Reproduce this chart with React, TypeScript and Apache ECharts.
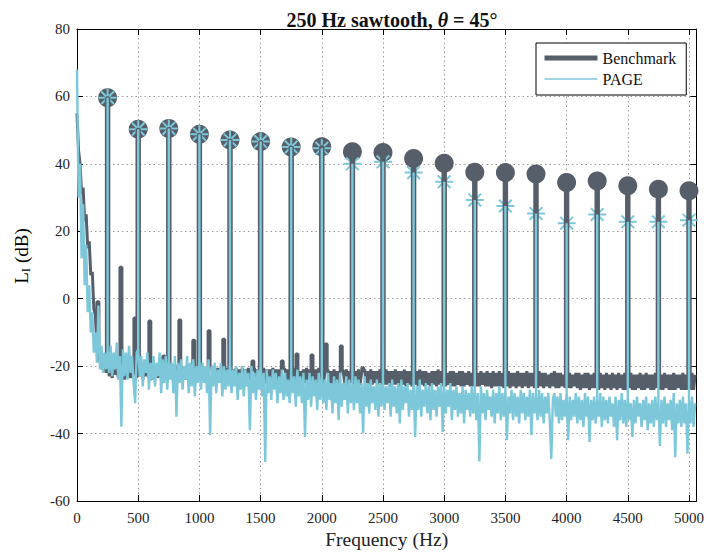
import React, { useEffect, useRef } from 'react';
import * as echarts from 'echarts';

const FONT = 'Liberation Serif';
const DARK = '#555e69';
const CYAN = '#7cc7d9';

// Harmonics of the 250 Hz sawtooth
const harmonicHz = [250, 500, 750, 1000, 1250, 1500, 1750, 2000, 2250, 2500, 2750, 3000, 3250, 3500, 3750, 4000, 4250, 4500, 4750, 5000];
const benchmarkPeakDb = [59.6, 50.3, 50.5, 48.8, 47.1, 46.6, 45.0, 45.1, 43.6, 43.4, 41.6, 40.2, 37.5, 37.4, 37.0, 34.5, 34.9, 33.5, 32.5, 32.0];
const pagePeakDb = [59.6, 50.3, 50.5, 48.8, 47.1, 46.6, 45.0, 44.6, 40.0, 40.6, 37.4, 34.7, 29.3, 27.5, 25.3, 22.4, 25.0, 22.8, 22.8, 23.3];

// Smaller benchmark peaks between harmonics
const benchmarkSubPeakHz = [171, 359, 473, 595, 710, 840, 954, 1079, 1199, 1437, 1677, 1797, 1920, 2036, 2159, 2335];
const benchmarkSubPeakDb = [-0.9, 9.3, -5.7, -6.6, -17, -6.3, -12.3, -9.5, -12, -18.5, -18.5, -16.4, -16.7, -13.4, -14, -20.5];

// Benchmark spectrum floor, sampled every 12.5 Hz from 0 Hz
const benchmarkStepHz = 12.5;
const benchmarkFloorDb = [
  55, 44, 40, 31, 33, 23, 25, 15, 17, 7, 8, -3, -5, -14, -12, -19, -17, -21, -18.5, -22,
  -19.5, -23, -20, -23.5, -19.5, -22.5, -20.5, -23.5, -19.5, -23, -20, -24, -19.5, -23, -20.5, -23.5, -20, -22.5, -19.5, -23.5,
  -20, -23, -19.5, -24, -20.5, -23, -20, -23.5, -19.5, -24, -20.5, -23, -20, -23.5, -19.5, -23, -20.5, -24, -20, -23.5,
  -20, -23.5, -20.5, -23, -19.5, -24, -20, -23.5, -20.5, -23, -20, -24, -19.5, -23.5, -20.5, -23, -20, -24, -20.5, -23.5,
  -20.5, -24, -20, -23.5, -21, -24, -20.5, -24.5, -20, -23.5, -21, -24, -20.5, -24.5, -20.5, -23.5, -21, -24, -20.5, -24.5,
  -20.5, -24, -21, -24.5, -20.5, -24, -21, -24.5, -20.5, -24, -21, -24.5, -20.5, -24, -21, -24.5, -20.5, -24, -21, -25,
  -21, -24.5, -20.5, -25, -21, -24.5, -21, -25, -20.5, -24.5, -21, -25, -21, -24.5, -20.5, -25, -21, -24.5, -21, -25,
  -21, -25, -20.5, -24.5, -21, -25, -21.5, -24.5, -21, -25, -20.5, -25, -21, -24.5, -21.5, -25, -21, -25, -20.5, -24.5,
  -21, -25, -21.5, -25.5, -21, -25, -21.5, -25.5, -21, -25, -21.5, -25.5, -21, -25.5, -21.5, -25, -21, -25.5, -21.5, -25,
  -21, -25.5, -21.5, -25, -21, -25.5, -21.5, -25.5, -21, -25, -21.5, -25.5, -21, -25.5, -21.5, -25, -21.5, -25.5, -21, -25.5,
  -21.5, -25.5, -21, -25.5, -21.5, -26, -21.5, -25.5, -21, -25.5, -21.5, -26, -21.5, -25.5, -21, -26, -21.5, -25.5, -21.5, -26,
  -21.5, -25.5, -21.5, -26, -21, -25.5, -21.5, -26, -21.5, -25.5, -22, -26, -21.5, -25.5, -21.5, -26, -21, -25.5, -21.5, -26,
  -21.5, -26, -22, -25.5, -21.5, -26, -21.5, -26, -22, -25.5, -21.5, -26, -21.5, -26, -22, -25.5, -21.5, -26, -22, -26,
  -21.5, -26, -22, -26, -21.5, -25.5, -22, -26, -21.5, -26, -22, -26.5, -21.5, -26, -22, -26, -21.5, -26, -22, -26.5,
  -22, -26, -21.5, -26.5, -22, -26, -22, -26.5, -21.5, -26, -22, -26.5, -22, -26, -21.5, -26.5, -22, -26, -22, -26.5,
  -22, -26.5, -21.5, -26, -22, -26.5, -22, -26, -22.5, -26.5, -22, -26, -21.5, -26.5, -22, -26.5, -22, -26, -22.5, -26.5,
  -22, -26.5, -22, -26.5, -22.5, -26, -22, -26.5, -22, -27, -22.5, -26.5, -22, -26.5, -22, -27, -22.5, -26.5, -22, -26.5,
  -22.5, -27, -22, -26.5, -22.5, -27, -22, -26.5, -22.5, -27, -22, -26.5, -22.5, -27, -22, -26.5, -22.5, -27, -22, -27,
  -22.5, -26.5, -22, -27, -22.5, -27, -22.5, -26.5, -22, -27, -22.5, -27, -22, -26.5, -22.5, -27, -22.5, -27, -22, -26.5,
  -22.5, -27, -22.5, -27, -22, -26.5, -22.5, -27, -22.5, -27, -22, -27, -22.5, -26.5, -22.5, -27, -22, -27, -22.5, -27,
  -22.5, -27, -22, -27, -22.5,
];

// PAGE spectrum floor, sampled every 12.5 Hz from 0 Hz
const pageStepHz = 12.5;
const pageFloorDb = [
  68, 30, 40, 12, 28, 4, 16, -4, 4, -10, -4, -16, -10, -19, -2, -21, -14, -22, -16, -21,
  -15, -22, -14, -23, -16, -21, -13, -24, -17, -38, -15, -23, -16, -24, -14, -22, -17, -25, -31, -16,
  -15, -23, -17, -26, -18, -22, -16, -27, -19, -24, -17, -26, -19, -23, -16, -28, -18, -25, -17, -27,
  -18, -24, -19, -28, -17, -35, -19, -25, -18, -27, -20, -24, -17, -28, -19, -26, -18, -29, -20, -25,
  -18, -27, -19, -25, -20, -28, -18, -40.5, -20, -26, -19, -28, -21, -25, -19, -29, -20, -27, -21, -26,
  -19, -28, -21, -26, -20, -30, -22, -27, -20, -29, -21, -26, -22, -39, -20, -28, -22, -30, -21, -27,
  -20, -29, -22, -48.4, -21, -28, -23, -30, -21, -27, -22, -31, -23, -28, -21, -30, -22, -29, -24, -31,
  -22, -28, -23, -32, -21, -29, -23, -31, -22, -41, -24, -30, -22, -32, -23, -29, -24, -33, -22, -30,
  -23, -31, -24, -33, -22, -30, -25, -34, -23, -31, -24, -36, -22, -32, -25, -30, -23, -34, -24, -31,
  -25, -33, -23, -31, -24, -34, -25, -40, -23, -32, -25, -34, -24, -31, -26, -33, -24, -35, -25, -32,
  -24, -33, -26, -31, -25, -35, -24, -32, -26, -34, -25, -37, -24, -33, -26, -31, -25, -35, -27, -33,
  -25, -41, -26, -33, -24, -35, -27, -32, -25, -34, -26, -36, -25, -33, -27, -35, -26, -32, -25, -39.5,
  -26, -34, -27, -32, -25, -36, -27, -33, -26, -35, -28, -34, -26, -37, -27, -33, -28, -35, -26, -34,
  -27, -36, -28, -48.3, -26, -34, -28, -36, -27, -33, -29, -35, -27, -37, -28, -34, -26, -36, -28, -35,
  -27, -42, -29, -34, -27, -36, -28, -35, -29, -37, -27, -34, -28, -36, -29, -35, -27, -40.5, -28, -34,
  -29, -36, -27, -35, -28, -37, -29, -34, -28, -36, -47.5, -30, -28, -35, -29, -37, -28, -36, -30, -35,
  -28, -42, -29, -36, -30, -35, -28, -37, -29, -36, -30, -38, -28, -35, -29, -42.5, -30, -36, -29, -37,
  -30, -35, -28, -38, -29, -36, -30, -37, -29, -35, -31, -38, -29, -42, -30, -36, -28, -37, -30, -38,
  -29, -36, -31, -41, -30, -37, -29, -35, -31, -38, -30, -36, -29, -39, -31, -37, -30, -38, -29, -36,
  -31, -43.7, -30, -37, -29, -38, -31, -36, -30, -39, -28, -47, -31, -37, -30, -38, -29, -37, -31, -46,
  -30, -37, -29, -38, -31,
];

const X_MIN = 0;
const X_MAX = 5060;
const X_INTERVAL = 500;
const Y_MIN = -60;
const Y_MAX = 80;
const Y_INTERVAL = 20;

function buildBenchmarkLine(): number[][] {
  const pts: number[][] = [];
  benchmarkFloorDb.forEach((v, i) => {
    const f = i * benchmarkStepHz;
    const nearSub = benchmarkSubPeakHz.some((s) => Math.abs(s - f) < 13);
    const h = harmonicHz.indexOf(f);
    if (h >= 0) {
      const p = benchmarkPeakDb[h];
      pts.push([f - 10, v], [f - 10, p], [f + 10, p], [f + 10, v]);
    } else if (!nearSub) {
      pts.push([f, v]);
    }
  });
  benchmarkSubPeakHz.forEach((f, k) => {
    const base = benchmarkFloorDb[Math.floor(f / benchmarkStepHz)];
    const p = benchmarkSubPeakDb[k];
    pts.push([f - 8, base], [f - 8, p], [f + 8, p], [f + 8, base]);
  });
  pts.sort((a, b) => a[0] - b[0]);
  return pts;
}

function buildPageLine(): number[][] {
  const pts: number[][] = [];
  pageFloorDb.forEach((v, i) => {
    const f = i * pageStepHz;
    pts.push([f, v]);
    const h = harmonicHz.indexOf(f);
    if (h >= 0) pts.push([f, pagePeakDb[h]], [f, v]);
  });
  return pts;
}

export default function App() {
  const ref = useRef<HTMLDivElement>(null);
  useEffect(() => {
    document.body.style.margin = '0';
    if (!ref.current) return;
    const chart = echarts.init(ref.current, undefined, { renderer: 'svg' });
    const axisText = { fontFamily: FONT, fontSize: 15, color: '#222' };
    const splitLine = { show: true, lineStyle: { type: [1.5, 3] as any, color: '#9c9c9c', width: 1 } };
    const axisLine = { show: true, onZero: false, lineStyle: { color: '#000', width: 1 } };
    const axisTick = { show: true, inside: true, length: 6, lineStyle: { color: '#000', width: 1 } };
    chart.setOption({
      animation: false,
      backgroundColor: '#fff',
      title: {
        text: '{a|250 Hz sawtooth, }{b|θ}{a| = 45°}',
        left: 387,
        top: 5,
        textAlign: 'center',
        textStyle: {
          rich: {
            a: { fontFamily: FONT, fontSize: 20, fontWeight: 'bold', color: '#111' },
            b: { fontFamily: FONT, fontSize: 20, fontWeight: 'bold', fontStyle: 'italic', color: '#111' },
          },
        },
      },
      legend: {
        data: [
          { name: 'Benchmark', lineStyle: { width: 5, color: DARK } },
          { name: 'PAGE', lineStyle: { width: 1.5, color: CYAN } },
        ],
        orient: 'vertical',
        left: 536,
        top: 43,
        padding: [7, 10, 8, 6],
        itemGap: 5,
        itemWidth: 53,
        itemHeight: 14,
        itemStyle: { opacity: 0 },
        backgroundColor: '#fff',
        borderColor: '#000',
        borderWidth: 1,
        borderRadius: 0,
        textStyle: { fontFamily: FONT, fontSize: 16, color: '#111' },
      },
      grid: { left: 77, top: 29, width: 621, height: 472, containLabel: false },
      xAxis: [
        {
          type: 'value', min: X_MIN, max: X_MAX, interval: X_INTERVAL, position: 'bottom',
          axisLine, axisTick,
          axisLabel: { ...axisText, margin: 9, showMaxLabel: false, formatter: (v: number) => String(v) },
          splitLine,
          name: 'Frequency (Hz)', nameLocation: 'middle', nameGap: 28,
          nameTextStyle: { fontFamily: FONT, fontSize: 19.5, color: '#222' },
        },
        {
          type: 'value', min: X_MIN, max: X_MAX, interval: X_INTERVAL, position: 'top',
          axisLine, axisTick, axisLabel: { show: false }, splitLine: { show: false },
        },
      ],
      yAxis: [
        {
          type: 'value', min: Y_MIN, max: Y_MAX, interval: Y_INTERVAL, position: 'left',
          axisLine, axisTick,
          axisLabel: { ...axisText, margin: 7, formatter: (v: number) => String(v) },
          splitLine,
        },
        {
          type: 'value', min: Y_MIN, max: Y_MAX, interval: Y_INTERVAL, position: 'right',
          axisLine, axisTick, axisLabel: { show: false }, splitLine: { show: false },
        },
      ],
      graphic: [
        {
          type: 'text',
          x: 21,
          y: 256,
          rotation: Math.PI / 2,
          style: {
            text: '{a|L}{s|I}{a| (dB)}',
            align: 'center',
            verticalAlign: 'middle',
            rich: {
              a: { fontFamily: FONT, fontSize: 19, color: '#222', lineHeight: 22, verticalAlign: 'middle' },
              s: { fontFamily: FONT, fontSize: 13, color: '#222', lineHeight: 22, verticalAlign: 'bottom', padding: [10, 0, 0, 0] },
            },
          },
        },
      ],
      series: [
        {
          name: 'Benchmark', type: 'line', data: buildBenchmarkLine(), symbol: 'none', showSymbol: false,
          lineStyle: { color: DARK, width: 3 }, itemStyle: { color: DARK }, clip: true,
        },
        {
          name: 'Benchmark peaks', type: 'scatter', data: harmonicHz.map((f, i) => [f, benchmarkPeakDb[i]]),
          symbol: 'circle', symbolSize: 19, itemStyle: { color: DARK, opacity: 1 },
        },
        {
          name: 'PAGE', type: 'line', data: buildPageLine(), symbol: 'none', showSymbol: false,
          lineStyle: { color: CYAN, width: 2.4 }, itemStyle: { color: CYAN }, clip: true,
        },
        {
          name: 'PAGE peaks', type: 'scatter', data: harmonicHz.map((f, i) => [f, pagePeakDb[i]]),
          symbol: 'path://M10 0L10 20M0 10L20 10M3 3L17 17M3 17L17 3', symbolSize: 18, symbolKeepAspect: true,
          itemStyle: { color: 'rgba(0,0,0,0)', borderColor: CYAN, borderWidth: 2, opacity: 1 },
        },
      ],
    });
    return () => chart.dispose();
  }, []);
  return <div ref={ref} style={{ width: 707, height: 556 }} />;
}
